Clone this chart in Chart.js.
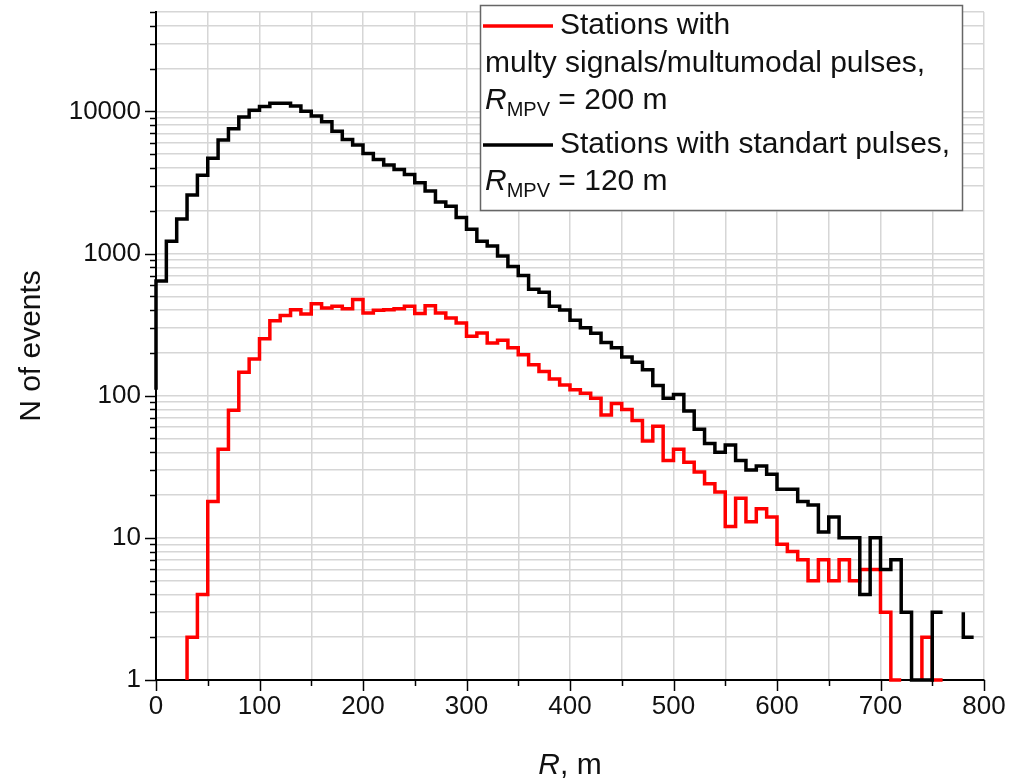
<!DOCTYPE html>
<html>
<head>
<meta charset="utf-8">
<script src="https://cdn.jsdelivr.net/npm/chart.js@4/dist/chart.umd.min.js"></script>
<style>
html,body{margin:0;padding:0;background:#fff;}
#wrap{width:1010px;height:782px;position:relative;}
canvas{display:block;}
</style>
</head>
<body>
<div id="wrap"><canvas id="c" width="1010" height="782"></canvas></div>
<script>
// Bin right edges (R, m)
const R_EDGES = [0,10,20,30,40,50,60,70,80,90,100,110,120,130,140,150,160,170,180,190,
  200,210,220,230,240,250,260,270,280,290,300,310,320,330,340,350,360,370,380,390,
  400,410,420,430,440,450,460,470,480,490,500,510,520,530,540,550,560,570,580,590,
  600,610,620,630,640,650,660,670,680,690,700,710,720,730,740,750,760,770,780,790];

// Stations with standart pulses (value of bin ending at the edge); null = no line
const STANDARD_COUNTS = [110,640,1220,1750,2580,3560,4670,6280,7550,9120,
  10200,10800,11400,11400,10900,10000,9270,8450,7260,6350,
  5790,5060,4590,4200,3900,3600,3150,2750,2300,2150,
  1790,1480,1220,1130,960,810,700,560,535,425,
  400,340,300,275,237,217,187,172,152,118,
  96,102,78,58,46,40,45,35,30,32,
  28,22,22,18,17,11,14,10,10,4,
  10,6,7,3,0,0,3,null,3,2];

// Stations with multy signals / multimodal pulses
const MULTI_COUNTS = [null,null,null,0,2,4,18,42,79,146,
  181,251,337,366,403,376,444,414,426,408,
  474,382,399,403,408,426,378,430,382,352,
  325,262,276,235,245,217,194,165,148,131,
  119,110,104,96,73,88,80,67,48,61,
  35,42,34,29,24,21,12,19,13,16,
  14,9,8,7,5,7,5,7,5,6,
  6,3,0,null,0,2,0,null,null,null];

const Y_MIN = 1, Y_MAX = 50000, X_MIN = 0, X_MAX = 800;
const Y_TICKS = [1,2,3,4,5,6,7,8,9,10,20,30,40,50,60,70,80,90,100,200,300,400,500,600,700,800,900,
  1000,2000,3000,4000,5000,6000,7000,8000,9000,10000,20000,30000,40000,50000];
const Y_LABELS = {1:'1',10:'10',100:'100',1000:'1000',10000:'10000'};
const X_TICKS = [0,50,100,150,200,250,300,350,400,450,500,550,600,650,700,750,800];
const X_LABELS = [0,100,200,300,400,500,600,700,800];

const SERIES_RED_NAME = ['Stations with', 'multy signals/multumodal pulses,', '200 m'];
const SERIES_BLACK_NAME = ['Stations with standart pulses,', '120 m'];

const FONT = '"Liberation Sans", Arial, Helvetica, sans-serif';
const TEXT = '#111';

const toPoints = arr => R_EDGES.map((r, i) => ({
  x: r,
  y: arr[i] === null ? null : (arr[i] === 0 ? Y_MIN : arr[i])
}));

const decor = {
  id: 'decor',
  afterDraw(chart) {
    const ctx = chart.ctx;
    const xs = chart.scales.x, ys = chart.scales.y;
    const ca = chart.chartArea;
    ctx.save();
    // tick marks
    ctx.strokeStyle = '#000';
    ctx.lineWidth = 1.5;
    Y_TICKS.forEach(v => {
      const y = Math.round(ys.getPixelForValue(v)) + 0.5;
      const len = Y_LABELS[v] !== undefined ? 11 : 6;
      ctx.beginPath(); ctx.moveTo(ca.left - len, y); ctx.lineTo(ca.left, y); ctx.stroke();
    });
    X_TICKS.forEach(v => {
      const x = Math.round(xs.getPixelForValue(v)) + 0.5;
      const len = X_LABELS.includes(v) ? 11 : 6;
      ctx.beginPath(); ctx.moveTo(x, ca.bottom); ctx.lineTo(x, ca.bottom + len); ctx.stroke();
    });

    // axis titles
    ctx.fillStyle = TEXT;
    ctx.textBaseline = 'middle';
    ctx.save();
    ctx.translate(32, (ca.top + ca.bottom) / 2);
    ctx.rotate(-Math.PI / 2);
    ctx.textAlign = 'center';
    ctx.font = '30px ' + FONT;
    ctx.fillText('N of events', 0, 0);
    ctx.restore();

    ctx.textAlign = 'left';
    ctx.font = 'italic 30px ' + FONT;
    const wR = ctx.measureText('R').width;
    ctx.font = '30px ' + FONT;
    const wRest = ctx.measureText(', m').width;
    const cx = (ca.left + ca.right) / 2;
    let x0 = cx - (wR + wRest) / 2;
    ctx.font = 'italic 30px ' + FONT;
    ctx.fillText('R', x0, 766);
    ctx.font = '30px ' + FONT;
    ctx.fillText(', m', x0 + wR, 766);

    // legend box
    const bx = 480, by = 5, bw = 482, bh = 205;
    ctx.fillStyle = '#fff';
    ctx.fillRect(bx, by, bw, bh);
    ctx.strokeStyle = '#666';
    ctx.lineWidth = 1.5;
    ctx.strokeRect(bx + 0.5, by + 0.5, bw, bh);

    const drawRmpv = (x, y, rest) => {
      ctx.fillStyle = TEXT;
      ctx.font = 'italic 30px ' + FONT;
      ctx.fillText('R', x, y);
      let xx = x + ctx.measureText('R').width;
      ctx.font = '20px ' + FONT;
      ctx.fillText('MPV', xx, y + 9);
      xx += ctx.measureText('MPV').width;
      ctx.font = '30px ' + FONT;
      ctx.fillText(' = ' + rest, xx, y);
    };

    ctx.lineWidth = 3.5;
    ctx.strokeStyle = '#ff0000';
    ctx.beginPath(); ctx.moveTo(483, 26); ctx.lineTo(553, 26); ctx.stroke();
    ctx.fillStyle = TEXT;
    ctx.font = '30px ' + FONT;
    ctx.fillText(SERIES_RED_NAME[0], 560, 26);
    ctx.fillText(SERIES_RED_NAME[1], 485, 64);
    drawRmpv(485, 101, SERIES_RED_NAME[2]);

    ctx.strokeStyle = '#000';
    ctx.beginPath(); ctx.moveTo(483, 145); ctx.lineTo(553, 145); ctx.stroke();
    ctx.fillStyle = TEXT;
    ctx.font = '30px ' + FONT;
    ctx.fillText(SERIES_BLACK_NAME[0], 560, 145);
    drawRmpv(485, 182, SERIES_BLACK_NAME[1]);

    ctx.restore();
  }
};

Chart.defaults.font.family = FONT;

new Chart(document.getElementById('c').getContext('2d'), {
  type: 'line',
  data: {
    datasets: [
      {
        label: 'Stations with standart pulses',
        data: toPoints(STANDARD_COUNTS),
        borderColor: '#000000',
        borderWidth: 3.5,
        stepped: 'after',
        pointRadius: 0,
        spanGaps: false,
        fill: false,
        clip: false,
        borderJoinStyle: 'miter',
        order: 0
      },
      {
        label: 'Stations with multy signals/multumodal pulses',
        data: toPoints(MULTI_COUNTS),
        borderColor: '#ff0000',
        borderWidth: 3.5,
        stepped: 'after',
        pointRadius: 0,
        spanGaps: false,
        fill: false,
        clip: false,
        borderJoinStyle: 'miter',
        order: 1
      }
    ]
  },
  options: {
    responsive: false,
    animation: false,
    devicePixelRatio: 1,
    layout: { padding: { top: 12, right: 26, left: 0, bottom: 0 } },
    plugins: { legend: { display: false }, tooltip: { enabled: false } },
    scales: {
      x: {
        type: 'linear',
        min: X_MIN, max: X_MAX,
        afterBuildTicks: s => { s.ticks = X_TICKS.map(v => ({ value: v })); },
        afterFit: s => { s.height = 102; s.paddingLeft = 0; s.paddingRight = 0; },
        ticks: {
          autoSkip: false, maxRotation: 0, minRotation: 0,
          font: { size: 26, family: FONT }, color: TEXT, padding: 11,
          callback: v => X_LABELS.includes(v) ? String(v) : ''
        },
        grid: { color: '#d6d6d6', lineWidth: 1.5, drawTicks: false },
        border: { color: '#000', width: 2 }
      },
      y: {
        type: 'logarithmic',
        min: Y_MIN, max: Y_MAX,
        afterBuildTicks: s => { s.ticks = Y_TICKS.map(v => ({ value: v })); },
        afterFit: s => { s.width = 156; s.paddingTop = 0; s.paddingBottom = 0; },
        ticks: {
          autoSkip: false,
          font: { size: 26, family: FONT }, color: TEXT, padding: 15,
          callback: v => Y_LABELS[v] !== undefined ? Y_LABELS[v] : ''
        },
        grid: { color: '#d6d6d6', lineWidth: 1.5, drawTicks: false },
        border: { color: '#000', width: 2 }
      }
    }
  },
  plugins: [decor]
});
</script>
</body>
</html>
